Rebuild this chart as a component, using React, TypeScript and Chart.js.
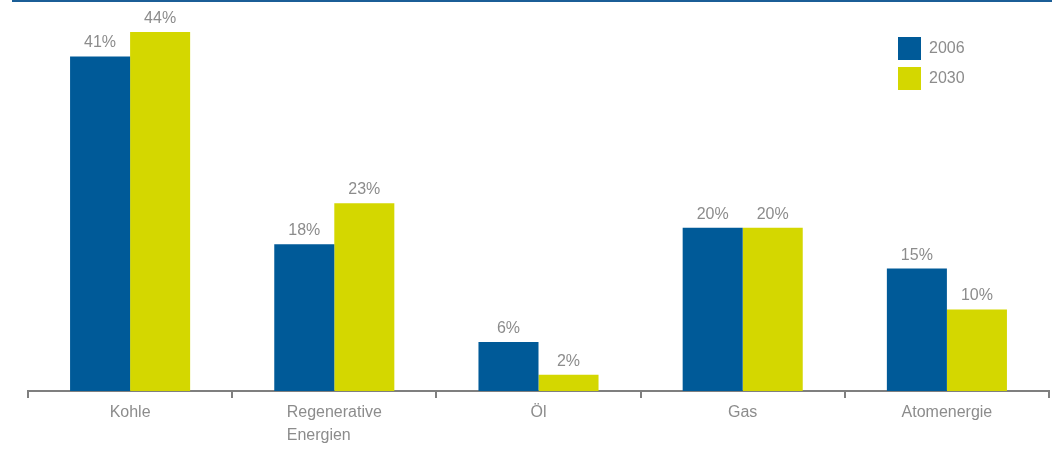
import React, { useEffect, useRef } from "react";
import { Chart, registerables } from "chart.js";

Chart.register(...registerables);

const categories: (string | string[])[] = ["Kohle", ["Regenerative", "Energien"], "Öl", "Gas", "Atomenergie"];
const seriesNames = ["2006", "2030"];
const values2006 = [41, 18, 6, 20, 15];
const values2030 = [44, 23, 2, 20, 10];

const BLUE = "#005a98";
const YELLOW = "#d4d700";
const GRAY_TEXT = "#8c8c8c";
const AXIS = "#7f7f7f";
const FONT = "'Liberation Sans', Arial, sans-serif";

const decorPlugin = {
  id: "decor",
  afterDraw(chart: any) {
    const ctx = chart.ctx;
    const xScale = chart.scales.x;
    ctx.save();
    // top rule
    ctx.fillStyle = "#1b5e97";
    ctx.fillRect(12, 0, chart.width - 12, 2);

    // value labels
    ctx.fillStyle = GRAY_TEXT;
    ctx.font = `16px ${FONT}`;
    ctx.textAlign = "center";
    ctx.textBaseline = "alphabetic";
    chart.data.datasets.forEach((ds: any, di: number) => {
      const meta = chart.getDatasetMeta(di);
      meta.data.forEach((el: any, i: number) => {
        ctx.fillText(`${ds.data[i]}%`, el.x, el.y - 9);
      });
    });

    // category labels (multi-line left aligned block, centered)
    ctx.font = `16px ${FONT}`;
    ctx.textBaseline = "alphabetic";
    ctx.textAlign = "left";
    const labels = chart.data.labels as (string | string[])[];
    labels.forEach((lab, i) => {
      const lines = Array.isArray(lab) ? lab : [lab];
      const cx = xScale.getPixelForValue(i);
      const w = Math.max(...lines.map((l) => ctx.measureText(l).width));
      const x0 = cx - w / 2;
      lines.forEach((l, li) => {
        ctx.fillText(l, x0, 417 + li * 23);
      });
    });

    // legend
    const lx = 898;
    const ly = 37;
    chart.data.datasets.forEach((ds: any, di: number) => {
      const y = ly + di * 30;
      ctx.fillStyle = ds.backgroundColor;
      ctx.fillRect(lx, y, 23, 23);
      ctx.fillStyle = GRAY_TEXT;
      ctx.font = `16px ${FONT}`;
      ctx.textBaseline = "middle";
      ctx.fillText(ds.label, lx + 31, y + 12);
    });
    ctx.restore();
  },
};

export default function App() {
  const ref = useRef<HTMLCanvasElement>(null);
  useEffect(() => {
    if (!ref.current) return;
    const chart = new Chart(ref.current, {
      type: "bar",
      data: {
        labels: categories,
        datasets: [
          { label: seriesNames[0], data: values2006, backgroundColor: BLUE, borderWidth: 0 },
          { label: seriesNames[1], data: values2030, backgroundColor: YELLOW, borderWidth: 0 },
        ],
      },
      options: {
        animation: false,
        responsive: false,
        maintainAspectRatio: false,
        layout: { padding: { left: 28, right: 3, top: 32, bottom: 53 } },
        datasets: { bar: { categoryPercentage: 0.588, barPercentage: 1 } },
        plugins: { legend: { display: false }, tooltip: { enabled: false } },
        scales: {
          x: {
            offset: true,
            grid: {
              offset: true,
              drawOnChartArea: false,
              drawTicks: true,
              tickLength: 7,
              color: AXIS,
              lineWidth: 2,
            },
            border: { display: true, color: AXIS, width: 2 },
            ticks: { display: false },
          },
          y: {
            display: false,
            min: 0,
            max: 44,
          },
        },
      },
      plugins: [decorPlugin],
    });
    return () => chart.destroy();
  }, []);
  return (
    <div style={{ position: "fixed", left: 0, top: 0, width: 1052, height: 451, background: "#fff" }}>
      <canvas ref={ref} width={1052} height={451} style={{ display: "block" }} />
    </div>
  );
}
